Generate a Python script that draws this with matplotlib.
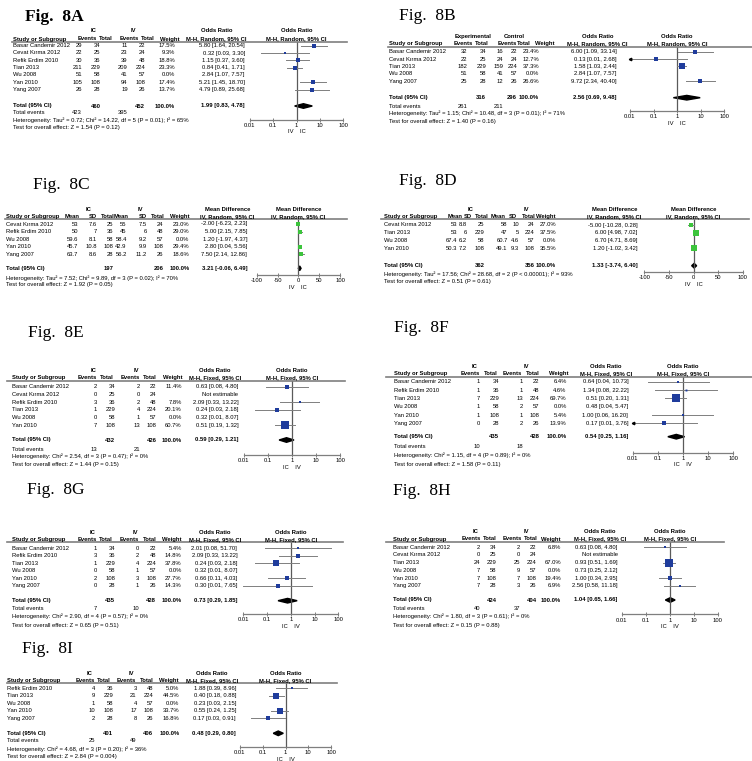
import numpy as np
import matplotlib.pyplot as plt
from matplotlib.lines import Line2D

plt.rcParams['font.family'] = ['Liberation Sans', 'DejaVu Sans']
plt.rcParams['axes.unicode_minus'] = False

# ---------------- data ----------------
# Fig 8A
a_study = ['Basar Candemir 2012', 'Cevat Kırma 2012', 'Refik Erdim 2010', 'Tian 2013', 'Wu 2008', 'Yan 2010', 'Yang 2007']
a_ev1 = [29, 22, 30, 211, 51, 105, 26]
a_tot1 = [34, 25, 36, 229, 58, 108, 28]
a_ev2 = [11, 23, 39, 209, 41, 94, 19]
a_tot2 = [22, 24, 48, 224, 57, 108, 26]
a_weight = [17.5, 9.3, 18.8, 23.3, 0.0, 17.4, 13.7]
a_or = [5.80, 0.32, 1.15, 0.84, 2.84, 5.21, 4.79]
a_lo = [1.64, 0.03, 0.37, 0.41, 1.07, 1.45, 0.89]
a_hi = [20.54, 3.30, 3.60, 1.71, 7.57, 18.70, 25.68]
a_n = [460, 452]
a_total = [1.99, 0.83, 4.78]
a_events = [423, 395]
a_het = 'Heterogeneity: Tau² = 0.72; Chi² = 14.22, df = 5 (P = 0.01); I² = 65%'
a_test = 'Test for overall effect: Z = 1.54 (P = 0.12)'

# Fig 8B
b_study = ['Basar Candemir 2012', 'Cevat Kırma 2012', 'Tian 2013', 'Wu 2008', 'Yang 2007']
b_ev1 = [32, 22, 182, 51, 25]
b_tot1 = [34, 25, 229, 58, 28]
b_ev2 = [16, 24, 159, 41, 12]
b_tot2 = [22, 24, 224, 57, 26]
b_weight = [23.4, 12.7, 37.3, 0.0, 26.6]
b_or = [6.00, 0.13, 1.58, 2.84, 9.72]
b_lo = [1.09, 0.006, 1.03, 1.07, 2.34]
b_hi = [33.14, 2.68, 2.44, 7.57, 40.40]
b_n = [316, 296]
b_total = [2.56, 0.69, 9.48]
b_events = [261, 211]
b_het = 'Heterogeneity: Tau² = 1.15; Chi² = 10.48, df = 3 (P = 0.01); I² = 71%'
b_test = 'Test for overall effect: Z = 1.40 (P = 0.16)'

# Fig 8C
c_study = ['Cevat Kırma 2012', 'Refik Erdim 2010', 'Wu 2008', 'Yan 2010', 'Yang 2007']
c_mean1 = [53, 50, 59.6, 45.7, 63.7]
c_sd1 = [7.6, 7, 8.1, 10.8, 8.6]
c_tot1 = [25, 36, 58, 108, 28]
c_mean2 = [55, 45, 58.4, 42.9, 56.2]
c_sd2 = [7.5, 6, 9.2, 9.9, 11.2]
c_tot2 = [24, 48, 57, 108, 26]
c_weight = [23.0, 29.0, 0.0, 29.4, 18.6]
c_md = [-2.00, 5.00, 1.20, 2.80, 7.50]
c_lo = [-6.23, 2.15, -1.97, 0.04, 2.14]
c_hi = [2.23, 7.85, 4.37, 5.56, 12.86]
c_n = [197, 206]
c_total = [3.21, -0.06, 6.49]
c_het = 'Heterogeneity: Tau² = 7.52; Chi² = 9.89, df = 3 (P = 0.02); I² = 70%'
c_test = 'Test for overall effect: Z = 1.92 (P = 0.05)'

# Fig 8D
d_study = ['Cevat Kırma 2012', 'Tian 2013', 'Wu 2008', 'Yan 2010']
d_mean1 = [53, 53, 67.4, 50.3]
d_sd1 = [8.8, 6, 6.2, 7.2]
d_tot1 = [25, 229, 58, 108]
d_mean2 = [58, 47, 60.7, 49.1]
d_sd2 = [10, 5, 4.6, 9.3]
d_tot2 = [24, 224, 57, 108]
d_weight = [27.0, 37.5, 0.0, 35.5]
d_md = [-5.00, 6.00, 6.70, 1.20]
d_lo = [-10.28, 4.98, 4.71, -1.02]
d_hi = [0.28, 7.02, 8.69, 3.42]
d_n = [362, 356]
d_total = [1.33, -3.74, 6.40]
d_het = 'Heterogeneity: Tau² = 17.56; Chi² = 28.68, df = 2 (P < 0.00001); I² = 93%'
d_test = 'Test for overall effect: Z = 0.51 (P = 0.61)'

# Fig 8E
e_study = ['Basar Candemir 2012', 'Cevat Kırma 2012', 'Refik Erdim 2010', 'Tian 2013', 'Wu 2008', 'Yan 2010']
e_ev1 = [2, 0, 3, 1, 0, 7]
e_tot1 = [34, 25, 36, 229, 58, 108]
e_ev2 = [2, 0, 2, 4, 1, 13]
e_tot2 = [22, 24, 48, 224, 57, 108]
e_weight = [11.4, None, 7.8, 20.1, 0.0, 60.7]
e_or = [0.63, None, 2.09, 0.24, 0.32, 0.51]
e_lo = [0.08, None, 0.33, 0.03, 0.01, 0.19]
e_hi = [4.80, None, 13.22, 2.18, 8.07, 1.32]
e_n = [432, 426]
e_total = [0.59, 0.29, 1.21]
e_events = [13, 21]
e_het = 'Heterogeneity: Chi² = 2.54, df = 3 (P = 0.47); I² = 0%'
e_test = 'Test for overall effect: Z = 1.44 (P = 0.15)'

# Fig 8F
f_study = ['Basar Candemir 2012', 'Refik Erdim 2010', 'Tian 2013', 'Wu 2008', 'Yan 2010', 'Yang 2007']
f_ev1 = [1, 1, 7, 1, 1, 0]
f_tot1 = [34, 36, 229, 58, 108, 28]
f_ev2 = [1, 1, 13, 2, 1, 2]
f_tot2 = [22, 48, 224, 57, 108, 26]
f_weight = [6.4, 4.6, 69.7, 0.0, 5.4, 13.9]
f_or = [0.64, 1.34, 0.51, 0.48, 1.00, 0.17]
f_lo = [0.04, 0.08, 0.20, 0.04, 0.06, 0.007]
f_hi = [10.73, 22.22, 1.31, 5.47, 16.20, 3.76]
f_n = [435, 428]
f_total = [0.54, 0.25, 1.16]
f_events = [10, 18]
f_het = 'Heterogeneity: Chi² = 1.15, df = 4 (P = 0.89); I² = 0%'
f_test = 'Test for overall effect: Z = 1.58 (P = 0.11)'

# Fig 8G
g_study = ['Basar Candemir 2012', 'Refik Erdim 2010', 'Tian 2013', 'Wu 2008', 'Yan 2010', 'Yang 2007']
g_ev1 = [1, 3, 1, 0, 2, 0]
g_tot1 = [34, 36, 229, 58, 108, 28]
g_ev2 = [0, 2, 4, 1, 3, 1]
g_tot2 = [22, 48, 224, 57, 108, 26]
g_weight = [5.4, 14.8, 37.8, 0.0, 27.7, 14.3]
g_or = [2.01, 2.09, 0.24, 0.32, 0.66, 0.30]
g_lo = [0.08, 0.33, 0.03, 0.01, 0.11, 0.01]
g_hi = [51.70, 13.22, 2.18, 8.07, 4.03, 7.65]
g_n = [435, 428]
g_total = [0.73, 0.29, 1.85]
g_events = [7, 10]
g_het = 'Heterogeneity: Chi² = 2.90, df = 4 (P = 0.57); I² = 0%'
g_test = 'Test for overall effect: Z = 0.65 (P = 0.51)'

# Fig 8H
h_study = ['Basar Candemir 2012', 'Cevat Kırma 2012', 'Tian 2013', 'Wu 2008', 'Yan 2010', 'Yang 2007']
h_ev1 = [2, 0, 24, 7, 7, 7]
h_tot1 = [34, 25, 229, 58, 108, 28]
h_ev2 = [2, 0, 25, 9, 7, 3]
h_tot2 = [22, 24, 224, 57, 108, 26]
h_weight = [6.8, None, 67.0, 0.0, 19.4, 6.9]
h_or = [0.63, None, 0.93, 0.73, 1.00, 2.56]
h_lo = [0.08, None, 0.51, 0.25, 0.34, 0.58]
h_hi = [4.80, None, 1.69, 2.12, 2.95, 11.18]
h_n = [424, 404]
h_total = [1.04, 0.65, 1.66]
h_events = [40, 37]
h_het = 'Heterogeneity: Chi² = 1.80, df = 3 (P = 0.61); I² = 0%'
h_test = 'Test for overall effect: Z = 0.15 (P = 0.88)'

# Fig 8I
i_study = ['Refik Erdim 2010', 'Tian 2013', 'Wu 2008', 'Yan 2010', 'Yang 2007']
i_ev1 = [4, 9, 1, 10, 2]
i_tot1 = [36, 229, 58, 108, 28]
i_ev2 = [3, 21, 4, 17, 8]
i_tot2 = [48, 224, 57, 108, 26]
i_weight = [5.0, 44.5, 0.0, 33.7, 16.8]
i_or = [1.88, 0.40, 0.23, 0.55, 0.17]
i_lo = [0.39, 0.18, 0.03, 0.24, 0.03]
i_hi = [8.96, 0.88, 2.15, 1.25, 0.91]
i_n = [401, 406]
i_total = [0.48, 0.29, 0.80]
i_events = [25, 49]
i_het = 'Heterogeneity: Chi² = 4.68, df = 3 (P = 0.20); I² = 36%'
i_test = 'Test for overall effect: Z = 2.84 (P = 0.004)'

OR_HEADS = ['Events', 'Total', 'Events', 'Total', 'Weight']
MD_HEADS = ['Mean', 'SD', 'Total', 'Mean', 'SD', 'Total', 'Weight']

# ---------------- drawing ----------------
W, H = 752, 761
FS = 4.2
GRAY = '#7f7f7f'
BLUE = '#1f3c9c'
GREEN = '#3cc43c'

fig = plt.figure(figsize=(W / 100, H / 100), dpi=100)


def put(x, y, s, ha='left', bold=False):
    fig.text(x / W, 1 - y / H, s, ha=ha, va='center', fontsize=FS,
             fontweight='bold' if bold else 'normal')


def fmt(v):
    return '{:g}'.format(v)


def est_text(e, a, b):
    if e is None:
        return 'Not estimable'
    return '{:.2f} [{:.2f}, {:.2f}]'.format(e, a, b)


def panel(L, study, cells, heads, weight, est, lo, hi, n, total, events,
          het, test, color, log):
    # title
    fig.text(L['title'][0] / W, 1 - L['title'][1] / H, L['title'][2],
             family=['Liberation Serif', 'DejaVu Serif'], fontsize=12.5,
             fontweight='bold' if L['title'][3] else 'normal', va='baseline')

    xl, xr, ay = L['axis']
    mid = (xl + xr) / 2
    effect, method = L['effect']

    # header rows
    for lab, cx in L['groups']:
        put(cx, L['hdr1'], lab, 'center', True)
    put(L['heads'][-1], L['hdr1'], effect, 'center', True)
    put(mid, L['hdr1'], effect, 'center', True)
    put(L['sx'], L['hdr2'], 'Study or Subgroup', bold=True)
    for lab, cx in zip(heads + [method], L['heads']):
        put(cx, L['hdr2'], lab, 'center', True)
    put(mid, L['hdr2'], method, 'center', True)
    fig.add_artist(Line2D([L['lx'][0] / W, L['lx'][1] / W],
                          [1 - L['line'] / H] * 2, color=GRAY, lw=1.2))

    # study rows
    vals = L['vals']
    rows = L['row0'] + L['dy'] * np.arange(len(study))
    for k, y in enumerate(rows):
        put(L['sx'], y, study[k])
        for c, col in enumerate(cells):
            put(vals[c], y, fmt(col[k]), 'right')
        if weight[k] is not None:
            put(vals[-2], y, '{:.1f}%'.format(weight[k]), 'right')
        put(vals[-1], y, est_text(est[k], lo[k], hi[k]), 'right')

    # totals
    ty = L['total']
    put(L['sx'], ty, 'Total (95% CI)', bold=True)
    for c, v in zip(L['nidx'], n):
        put(vals[c], ty, str(v), 'right', True)
    put(vals[-2], ty, '100.0%', 'right', True)
    put(vals[-1], ty, est_text(*total), 'right', True)
    if events is not None:
        put(L['sx'], L['events'], 'Total events')
        put(vals[0], L['events'], str(events[0]), 'right')
        put(vals[2], L['events'], str(events[1]), 'right')
    put(L['sx'], L['het'], het)
    put(L['sx'], L['test'], test)

    # forest plot
    ax = fig.add_axes([xl / W, 1 - ay / H, (xr - xl) / W, (ay - L['line']) / H])
    ax.patch.set_visible(False)
    if log:
        ax.set_xscale('log')
        xmin, xmax, null = 0.01, 100, 1
        ticks = [0.01, 0.1, 1, 10, 100]
        tlabels = ['0.01', '0.1', '1', '10', '100']
    else:
        xmin, xmax, null = -100, 100, 0
        ticks = [-100, -50, 0, 50, 100]
        tlabels = ['-100', '-50', '0', '50', '100']
    ax.set_xlim(xmin, xmax)
    ax.set_ylim(ay, L['line'])
    ax.set_xticks(ticks, tlabels)
    ax.minorticks_off()
    ax.set_yticks([])
    for s in ['top', 'left', 'right']:
        ax.spines[s].set_visible(False)
    ax.spines['bottom'].set_color(GRAY)
    ax.spines['bottom'].set_linewidth(0.9)
    ax.tick_params(axis='x', direction='inout', length=3, width=0.7,
                   color=GRAY, labelsize=FS, pad=1)
    ax.axvline(null, color='#5a5a5a', lw=0.9)
    ax.set_xlabel(L['sides'], fontsize=FS, labelpad=1)

    for y, e, a, b, w in zip(rows, est, lo, hi, weight):
        if e is None or not w:
            continue
        ax.plot([max(a, xmin), min(b, xmax)], [y, y], color=GRAY, lw=0.7)
        if a < xmin:
            ax.plot(xmin, y, marker='<', ms=1.8, color='k', clip_on=False)
        ax.plot(e, y, 's', ms=max(0.65 * np.sqrt(w), 1.0), color=color, mew=0)
    te, tl, th = total
    ax.fill([tl, te, th, te], [ty, ty - 2.3, ty, ty + 2.3], color='k')


LA = dict(title=(25, 20.7, 'Fig.  8A', True), groups=[('IC', 94), ('IV', 133)],
          sx=13.3, heads=[87.7, 106, 129, 147.7, 170, 216.7],
          vals=[82, 100.7, 127.7, 145, 175, 245], nidx=[1, 3],
          hdr1=31, hdr2=39, line=42, lx=(12, 347), row0=45.7, dy=7.3,
          total=106, events=113, het=120, test=127, axis=(250, 343, 119.5),
          effect=('Odds Ratio', 'M-H, Random, 95% CI'), sides='IV    IC')
LB = dict(title=(399, 20, 'Fig.  8B', False), groups=[('Experimental', 472.7), ('Control', 514.7)],
          sx=389, heads=[463.7, 481.7, 507.7, 523.3, 545, 597.7],
          vals=[467.7, 486, 503.3, 517, 539, 616.7], nidx=[1, 3],
          hdr1=36.7, hdr2=43.3, line=46.7, lx=(388, 752), row0=51.7, dy=7.33,
          total=97.7, events=106, het=113.3, test=121, axis=(630, 724.3, 111),
          effect=('Odds Ratio', 'M-H, Random, 95% CI'), sides='IV    IC')
LC = dict(title=(33, 189.3, 'Fig.  8C', False), groups=[('IC', 88.3), ('IV', 140)],
          sx=6, heads=[72.5, 93.3, 107.5, 121, 143.3, 157.5, 179.7, 227.5],
          vals=[78.3, 96.7, 113.3, 126.7, 146.7, 163.3, 189.3, 247.3], nidx=[2, 5],
          hdr1=209.3, hdr2=216.7, line=219.3, lx=(5, 346.7), row0=224, dy=7.6,
          total=268.3, events=None, het=277.7, test=285, axis=(256.7, 340, 275),
          effect=('Mean Difference', 'IV, Random, 95% CI'), sides='IV    IC')
LD = dict(title=(399.3, 185, 'Fig.  8D', False), groups=[('IC', 471), ('IV', 526)],
          sx=384.3, heads=[454.7, 467.7, 481.3, 498.3, 512.7, 528.3, 546, 614.3],
          vals=[457, 466.7, 484.3, 507.7, 519.3, 534.5, 556, 637.7], nidx=[2, 5],
          hdr1=209.3, hdr2=216.7, line=219.3, lx=(381, 749.3), row0=225, dy=7.75,
          total=265.7, events=None, het=274, test=281, axis=(644.3, 742.7, 271.7),
          effect=('Mean Difference', 'IV, Random, 95% CI'), sides='IV    IC')
LE = dict(title=(28.3, 337.3, 'Fig.  8E', False), groups=[('IC', 93.3), ('IV', 136.7)],
          sx=11.7, heads=[87.7, 106.7, 130, 150, 172.7, 215],
          vals=[96.7, 115, 140, 156.7, 181.7, 238.3], nidx=[1, 3],
          hdr1=370, hdr2=377.8, line=380.7, lx=(7.3, 345), row0=386.7, dy=7.67,
          total=440, events=449, het=456, test=464, axis=(244, 340, 455),
          effect=('Odds Ratio', 'M-H, Fixed, 95% CI'), sides='IC    IV')
LF = dict(title=(394.3, 331.7, 'Fig.  8F', False), groups=[('IC', 474.3), ('IV', 526)],
          sx=394.3, heads=[470.3, 491, 512.7, 532.7, 558.7, 606],
          vals=[480, 499.3, 522.7, 539.3, 566.7, 628.3], nidx=[1, 3],
          hdr1=366, hdr2=373.3, line=376.7, lx=(386, 752), row0=381.7, dy=8.33,
          total=436.7, events=446.7, het=455, test=464, axis=(632.7, 733.3, 452.5),
          effect=('Odds Ratio', 'M-H, Fixed, 95% CI'), sides='IC    IV')
LG = dict(title=(26.7, 494, 'Fig.  8G', False), groups=[('IC', 92.7), ('IV', 135)],
          sx=11.7, heads=[87.7, 106, 129.3, 149.3, 171.7, 215],
          vals=[96.7, 115, 139.3, 156, 181.7, 237.3], nidx=[1, 3],
          hdr1=532.7, hdr2=539.6, line=542.3, lx=(6.7, 343.3), row0=548.3, dy=7.48,
          total=600.7, events=609, het=615.7, test=625, axis=(243.3, 338.3, 614),
          effect=('Odds Ratio', 'M-H, Fixed, 95% CI'), sides='IC    IV')
LH = dict(title=(393, 495, 'Fig.  8H', False), groups=[('IC', 475.3), ('IV', 526)],
          sx=392.7, heads=[471, 489.3, 512.7, 531, 551, 600],
          vals=[480, 496.7, 520, 536.7, 561, 617.7], nidx=[1, 3],
          hdr1=531.7, hdr2=539, line=541.7, lx=(386, 724.3), row0=547.3, dy=7.68,
          total=600, events=609, het=616.3, test=625, axis=(622, 717.7, 614.3),
          effect=('Odds Ratio', 'M-H, Fixed, 95% CI'), sides='IC    IV')
LI = dict(title=(21.7, 652.7, 'Fig.  8I', False), groups=[('IC', 90), ('IV', 131.7)],
          sx=7.3, heads=[85, 103.3, 126.7, 146.7, 168.3, 211.7],
          vals=[95, 113.3, 136.7, 153.3, 179.3, 236], nidx=[1, 3],
          hdr1=673.3, hdr2=680.5, line=683.3, lx=(6.7, 336.7), row0=688.3, dy=7.5,
          total=733.3, events=741, het=749.3, test=756.7, axis=(240, 331, 746.7),
          effect=('Odds Ratio', 'M-H, Fixed, 95% CI'), sides='IC    IV')

panel(LA, a_study, [a_ev1, a_tot1, a_ev2, a_tot2], OR_HEADS, a_weight, a_or, a_lo, a_hi,
      a_n, a_total, a_events, a_het, a_test, BLUE, True)
panel(LB, b_study, [b_ev1, b_tot1, b_ev2, b_tot2], OR_HEADS, b_weight, b_or, b_lo, b_hi,
      b_n, b_total, b_events, b_het, b_test, BLUE, True)
panel(LC, c_study, [c_mean1, c_sd1, c_tot1, c_mean2, c_sd2, c_tot2], MD_HEADS, c_weight,
      c_md, c_lo, c_hi, c_n, c_total, None, c_het, c_test, GREEN, False)
panel(LD, d_study, [d_mean1, d_sd1, d_tot1, d_mean2, d_sd2, d_tot2], MD_HEADS, d_weight,
      d_md, d_lo, d_hi, d_n, d_total, None, d_het, d_test, GREEN, False)
panel(LE, e_study, [e_ev1, e_tot1, e_ev2, e_tot2], OR_HEADS, e_weight, e_or, e_lo, e_hi,
      e_n, e_total, e_events, e_het, e_test, BLUE, True)
panel(LF, f_study, [f_ev1, f_tot1, f_ev2, f_tot2], OR_HEADS, f_weight, f_or, f_lo, f_hi,
      f_n, f_total, f_events, f_het, f_test, BLUE, True)
panel(LG, g_study, [g_ev1, g_tot1, g_ev2, g_tot2], OR_HEADS, g_weight, g_or, g_lo, g_hi,
      g_n, g_total, g_events, g_het, g_test, BLUE, True)
panel(LH, h_study, [h_ev1, h_tot1, h_ev2, h_tot2], OR_HEADS, h_weight, h_or, h_lo, h_hi,
      h_n, h_total, h_events, h_het, h_test, BLUE, True)
panel(LI, i_study, [i_ev1, i_tot1, i_ev2, i_tot2], OR_HEADS, i_weight, i_or, i_lo, i_hi,
      i_n, i_total, i_events, i_het, i_test, BLUE, True)

fig.savefig('out.png', dpi=100)
